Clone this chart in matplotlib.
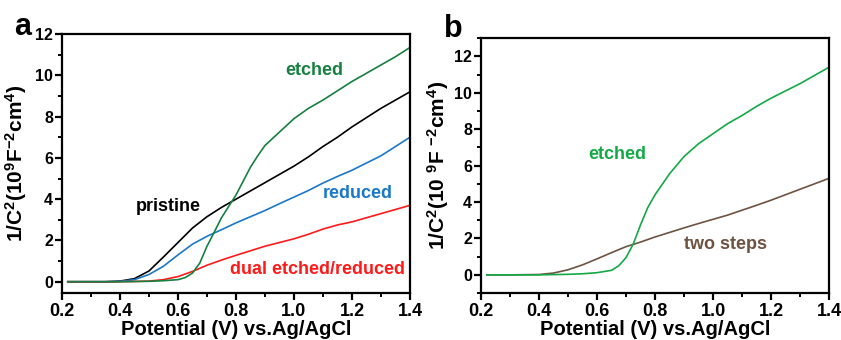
import matplotlib
matplotlib.use("Agg")
import matplotlib.pyplot as plt
from matplotlib.ticker import MultipleLocator

plt.rcParams['font.family'] = ['Liberation Sans', 'DejaVu Sans']
plt.rcParams['font.weight'] = 'bold'
plt.rcParams['mathtext.fontset'] = 'custom'
plt.rcParams['mathtext.bf'] = 'Liberation Sans:bold'
plt.rcParams['mathtext.rm'] = 'Liberation Sans:bold'
plt.rcParams['mathtext.default'] = 'bf'

# ---- data panel a ----
x_pristine = [0.22, 0.3, 0.35, 0.4, 0.45, 0.5, 0.55, 0.6, 0.65, 0.7, 0.75, 0.8, 0.85, 0.9, 0.95, 1.0, 1.05, 1.1, 1.15, 1.2, 1.25, 1.3, 1.35, 1.4]
y_pristine = [0.0, 0.0, 0.0, 0.03, 0.15, 0.52, 1.2, 1.9, 2.6, 3.15, 3.6, 4.0, 4.4, 4.8, 5.2, 5.6, 6.05, 6.55, 7.0, 7.5, 7.95, 8.4, 8.8, 9.2]

x_reduced = [0.22, 0.3, 0.35, 0.4, 0.45, 0.5, 0.55, 0.6, 0.65, 0.7, 0.75, 0.8, 0.85, 0.9, 0.95, 1.0, 1.05, 1.1, 1.15, 1.2, 1.25, 1.3, 1.35, 1.4]
y_reduced = [0.0, 0.0, 0.0, 0.02, 0.1, 0.35, 0.75, 1.3, 1.82, 2.2, 2.52, 2.85, 3.15, 3.45, 3.78, 4.1, 4.42, 4.78, 5.1, 5.4, 5.75, 6.1, 6.55, 7.0]

x_etched_a = [0.22, 0.3, 0.4, 0.5, 0.55, 0.6, 0.625, 0.65, 0.675, 0.7, 0.725, 0.75, 0.8, 0.85, 0.875, 0.9, 0.95, 1.0, 1.05, 1.1, 1.15, 1.2, 1.25, 1.3, 1.35, 1.4]
y_etched_a = [0.0, 0.0, 0.0, 0.02, 0.05, 0.1, 0.2, 0.42, 0.9, 1.72, 2.4, 3.1, 4.2, 5.55, 6.1, 6.6, 7.25, 7.9, 8.4, 8.8, 9.25, 9.7, 10.1, 10.5, 10.9, 11.35]

x_dual = [0.22, 0.3, 0.4, 0.5, 0.55, 0.6, 0.65, 0.7, 0.75, 0.8, 0.85, 0.9, 0.95, 1.0, 1.05, 1.1, 1.15, 1.2, 1.25, 1.3, 1.35, 1.4]
y_dual = [0.0, 0.0, 0.0, 0.03, 0.1, 0.25, 0.5, 0.8, 1.05, 1.28, 1.5, 1.72, 1.9, 2.08, 2.3, 2.55, 2.75, 2.9, 3.1, 3.3, 3.5, 3.7]

# ---- data panel b ----
x_etched_b = [0.22, 0.3, 0.4, 0.5, 0.55, 0.6, 0.65, 0.675, 0.7, 0.725, 0.75, 0.775, 0.8, 0.85, 0.9, 0.95, 1.0, 1.05, 1.1, 1.15, 1.2, 1.25, 1.3, 1.35, 1.4]
y_etched_b = [0.0, 0.0, 0.0, 0.03, 0.06, 0.12, 0.25, 0.5, 0.95, 1.7, 2.75, 3.7, 4.4, 5.55, 6.5, 7.2, 7.75, 8.3, 8.75, 9.25, 9.7, 10.1, 10.5, 10.95, 11.4]

x_two = [0.22, 0.3, 0.4, 0.45, 0.5, 0.55, 0.6, 0.65, 0.7, 0.75, 0.8, 0.85, 0.9, 0.95, 1.0, 1.05, 1.1, 1.15, 1.2, 1.25, 1.3, 1.35, 1.4]
y_two = [0.0, 0.0, 0.02, 0.1, 0.28, 0.55, 0.88, 1.22, 1.55, 1.8, 2.08, 2.33, 2.58, 2.82, 3.05, 3.28, 3.55, 3.82, 4.1, 4.4, 4.7, 5.0, 5.3]

xticks = [0.2, 0.4, 0.6, 0.8, 1.0, 1.2, 1.4]
xticklabels = ['0.2', '0.4', '0.6', '0.8', '1.0', '1.2', '1.4']
yticks = [0, 2, 4, 6, 8, 10, 12]

C_BLACK = '#000000'
C_BLUE = '#1a78c8'
C_GREEN_A = '#168040'
C_RED = '#ff1a1a'
C_GREEN_B = '#14a846'
C_BROWN = '#6e5242'

fig = plt.figure(figsize=(8.41, 3.40), dpi=100)
ax1 = fig.add_axes([0.0737, 0.138, 0.4138, 0.762])
ax2 = fig.add_axes([0.572, 0.138, 0.4138, 0.750])


def style(ax, ylim, label):
    ax.set_xlim(0.2, 1.4)
    ax.set_ylim(*ylim)
    ax.set_xticks(xticks)
    ax.set_xticklabels(xticklabels)
    ax.set_yticks(yticks)
    ax.xaxis.set_minor_locator(MultipleLocator(0.1))
    ax.yaxis.set_minor_locator(MultipleLocator(1))
    for s in ax.spines.values():
        s.set_linewidth(1.6)
    ax.tick_params(axis='both', which='major', direction='out', length=5, width=1.6, top=False, right=False)
    ax.tick_params(axis='both', which='minor', direction='out', length=3, width=1.4, top=False, right=False)
    ax.tick_params(axis='x', labelsize=13, pad=2)
    ax.tick_params(axis='y', labelsize=11.5, pad=1.5)
    for t in ax.get_xticklabels() + ax.get_yticklabels():
        t.set_fontweight('bold')
    ax.set_xlabel('Potential (V) vs.Ag/AgCl', fontsize=14.5, fontweight='bold', labelpad=0)
    ax.set_ylabel(label, fontsize=15, fontweight='bold')


style(ax1, (-0.55, 12), r'1/C$^{2}$(10$^{9}$F$^{-2}$cm$^{4}$)')
style(ax2, (-1.0, 13), r'1/C$^{2}$(10 $^{9}$F $^{-2}$cm$^{4}$)')
ax1.yaxis.set_label_coords(-0.095, 0.5)
ax2.yaxis.set_label_coords(-0.085, 0.5)

lw = 1.2
ax1.plot(x_pristine, y_pristine, color=C_BLACK, lw=lw)
ax1.plot(x_reduced, y_reduced, color=C_BLUE, lw=lw)
ax1.plot(x_dual, y_dual, color=C_RED, lw=lw)
ax1.plot(x_etched_a, y_etched_a, color=C_GREEN_A, lw=lw)

fs = 13
ax1.text(1.07, 10.25, 'etched', color=C_GREEN_A, fontsize=fs, fontweight='bold', ha='center', va='center')
ax1.text(0.567, 3.65, 'pristine', color=C_BLACK, fontsize=fs, fontweight='bold', ha='center', va='center')
ax1.text(1.22, 4.27, 'reduced', color=C_BLUE, fontsize=fs, fontweight='bold', ha='center', va='center')
ax1.text(1.08, 0.58, 'dual etched/reduced', color=C_RED, fontsize=fs, fontweight='bold', ha='center', va='center')

ax2.plot(x_two, y_two, color=C_BROWN, lw=lw)
ax2.plot(x_etched_b, y_etched_b, color=C_GREEN_B, lw=lw)
ax2.text(0.668, 6.6, 'etched', color=C_GREEN_B, fontsize=fs, fontweight='bold', ha='center', va='center')
ax2.text(1.043, 1.65, 'two steps', color=C_BROWN, fontsize=fs, fontweight='bold', ha='center', va='center')

fig.text(0.027, 0.92, 'a', fontsize=22, fontweight='bold', ha='center', va='center')
fig.text(0.539, 0.915, 'b', fontsize=22, fontweight='bold', ha='center', va='center')

fig.savefig('out.png', dpi=100)
